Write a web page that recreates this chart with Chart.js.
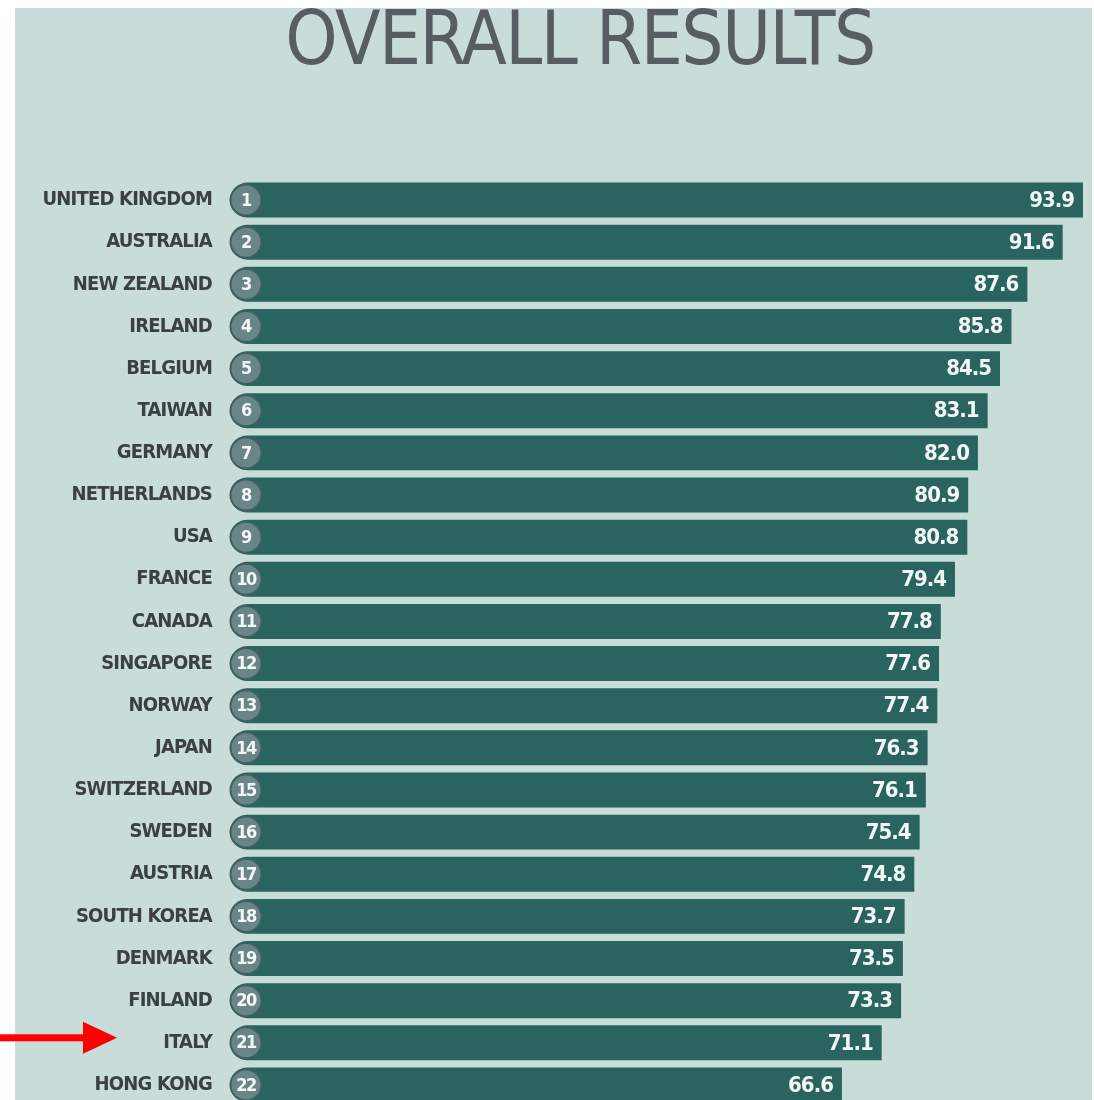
<!DOCTYPE html>
<html>
<head>
<meta charset="utf-8">
<script src="https://cdn.jsdelivr.net/npm/chart.js@4"></script>
<style>
  body { margin: 0; background: #fff; overflow: hidden; }
  #panel { position: absolute; left: 15px; top: 8px; width: 1077px; height: 1100px; background: #c8dcd9; }
  #wrap { position: absolute; left: 0; top: 0; }
</style>
</head>
<body>
<div id="panel"></div>
<!-- canvas runs past the window bottom: the last bar is cut off in the source too -->
<div id="wrap"><canvas id="myChart" width="1094" height="1136"></canvas></div>
<script>
const countries = [
  'UNITED KINGDOM', 'AUSTRALIA', 'NEW ZEALAND', 'IRELAND', 'BELGIUM', 'TAIWAN',
  'GERMANY', 'NETHERLANDS', 'USA', 'FRANCE', 'CANADA', 'SINGAPORE', 'NORWAY',
  'JAPAN', 'SWITZERLAND', 'SWEDEN', 'AUSTRIA', 'SOUTH KOREA', 'DENMARK',
  'FINLAND', 'ITALY', 'HONG KONG'
];
const scores = [93.9, 91.6, 87.6, 85.8, 84.5, 83.1, 82.0, 80.9, 80.8, 79.4, 77.8,
  77.6, 77.4, 76.3, 76.1, 75.4, 74.8, 73.7, 73.5, 73.3, 71.1, 66.6];
const ranks = ['1','2','3','4','5','6','7','8','9','10','11','12','13','14','15',
  '16','17','18','19','20','21','22'];
const title = 'OVERALL RESULTS';
const highlight = 'ITALY';

const narrow = "'DejaVu Sans Condensed', 'Liberation Sans Narrow', sans-serif";
const xMin = -2.7;   // room for the rounded bar start / rank badge

// tighter letters everywhere, the source uses a very narrow face
const tighten = {
  id: 'tighten',
  beforeDraw(chart) { chart.ctx.letterSpacing = '-0.8px'; },
  afterDraw(chart) { chart.ctx.letterSpacing = '0px'; }
};

// title, centred over the panel
const bigTitle = {
  id: 'bigTitle',
  afterDraw(chart) {
    const ctx = chart.ctx;
    ctx.save();
    ctx.letterSpacing = '-1.5px';
    ctx.fillStyle = '#575e63';
    ctx.font = '74px ' + narrow;
    ctx.textAlign = 'center';
    ctx.textBaseline = 'alphabetic';
    ctx.fillText(title, 580, 64);
    ctx.restore();
  }
};

// rank badge at the left of every bar + value at the right end
const barDeco = {
  id: 'barDeco',
  afterDatasetsDraw(chart) {
    const ctx = chart.ctx;
    const meta = chart.getDatasetMeta(0);
    meta.data.forEach(function(bar, i) {
      const cx = bar.base + 16;
      ctx.save();
      ctx.fillStyle = '#3f605f';
      ctx.beginPath();
      ctx.arc(cx, bar.y, 16.5, 0, Math.PI * 2);
      ctx.fill();
      ctx.fillStyle = '#6a8587';
      ctx.beginPath();
      ctx.arc(cx, bar.y, 14.5, 0, Math.PI * 2);
      ctx.fill();
      ctx.fillStyle = '#f4f7f7';
      ctx.textBaseline = 'middle';
      ctx.textAlign = 'center';
      ctx.letterSpacing = '-1.5px';
      ctx.font = 'bold 18px ' + narrow;
      ctx.fillText(ranks[i], cx, bar.y + 1);
      ctx.textAlign = 'right';
      ctx.letterSpacing = '-1px';
      ctx.font = 'bold 22px ' + narrow;
      ctx.fillText(scores[i].toFixed(1), bar.x - 9, bar.y + 1);
      ctx.restore();
    });
  }
};

// red arrow pointing at the highlighted country
const arrow = {
  id: 'arrow',
  afterDraw(chart) {
    const ctx = chart.ctx;
    const y = chart.scales.y.getPixelForValue(countries.indexOf(highlight)) - 5;
    ctx.save();
    ctx.fillStyle = '#ff0000';
    ctx.fillRect(0, y - 3.5, 88, 7);
    ctx.beginPath();
    ctx.moveTo(83, y - 16);
    ctx.lineTo(117, y);
    ctx.lineTo(83, y + 16);
    ctx.closePath();
    ctx.fill();
    ctx.restore();
  }
};

new Chart('myChart', {
  type: 'bar',
  data: {
    labels: countries,
    datasets: [{
      data: scores,
      backgroundColor: '#29645f',
      base: xMin,
      borderRadius: { topLeft: 18, bottomLeft: 18, topRight: 0, bottomRight: 0 },
      borderSkipped: false,
      barPercentage: 0.83,
      categoryPercentage: 1
    }]
  },
  options: {
    indexAxis: 'y',
    responsive: false,
    animation: false,
    layout: { padding: { left: 30, right: 11, top: 179, bottom: 5 } },
    plugins: {
      legend: { display: false },
      tooltip: { enabled: false },
      title: { display: false }
    },
    scales: {
      x: { display: false, min: xMin, max: Math.max(...scores) },
      y: {
        grid: { display: false, drawTicks: false },
        border: { display: false },
        ticks: {
          color: '#3a4043',
          font: { family: narrow, size: 20, weight: 'bold' },
          padding: 18
        },
        afterFit(scale) { scale.width = 200; }
      }
    }
  },
  plugins: [tighten, barDeco, arrow, bigTitle]
});
</script>
</body>
</html>
